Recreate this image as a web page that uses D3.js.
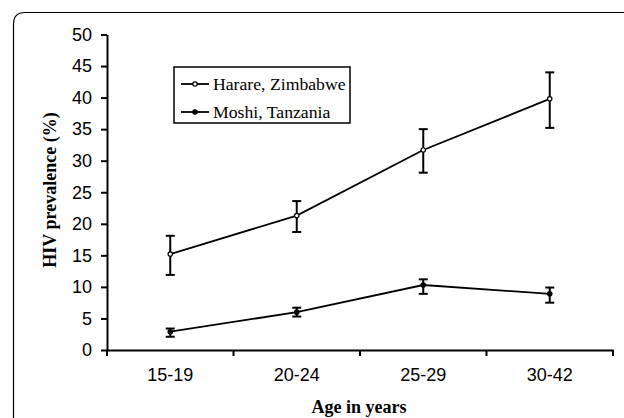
<!DOCTYPE html>
<html>
<head>
    <title>HIV prevalence by age</title>
    <script src="https://d3js.org/d3.v7.min.js"></script>
    <style>
        body { margin: 0; background: #fff; }
        .tick text { font-family: "Liberation Sans", Arial, sans-serif; font-size: 18px; fill: #000; }
        .title { font-family: "Liberation Serif", "Times New Roman", serif; font-weight: bold; font-size: 18px; }
        .legend text { font-family: "Liberation Serif", "Times New Roman", serif; font-size: 17.7px; }
    </style>
</head>
<body>
    <div id="chart"></div>

    <script>
        // Data
        let ageGroups = ["15-19", "20-24", "25-29", "30-42"];
        let harare = [15.2, 21.3, 31.7, 39.8];
        let harareLow = [11.9, 18.7, 28.1, 35.2];
        let harareHigh = [18.1, 23.6, 35.0, 44.0];
        let moshi = [2.9, 6.0, 10.3, 8.9];
        let moshiLow = [2.1, 5.3, 8.9, 7.5];
        let moshiHigh = [3.4, 6.7, 11.2, 9.9];
        let yTicks = [0, 5, 10, 15, 20, 25, 30, 35, 40, 45, 50];

        let series = [
            {name: "Harare, Zimbabwe", values: harare, low: harareLow, high: harareHigh, fill: "#fff"},
            {name: "Moshi, Tanzania", values: moshi, low: moshiLow, high: moshiHigh, fill: "#000"}
        ];

        let svg = d3.select("#chart").append("svg")
            .attr("width", 624)
            .attr("height", 418);

        // outer frame with rounded top-left corner
        svg.append("path")
            .attr("d", "M13.5,640 L13.5,24 Q13.5,12.5 25,12.5 L640,12.5")
            .attr("fill", "none")
            .attr("stroke", "#000")
            .attr("stroke-width", 1.2);

        let x = d3.scaleBand().domain(ageGroups).range([107, 613]);
        let y = d3.scaleLinear().domain([0, 50]).range([350, 34.5]);

        // axes
        let xAxis = svg.append("g")
            .attr("transform", "translate(0,350)")
            .call(d3.axisBottom(x).tickSize(0).tickPadding(18));
        xAxis.select(".domain").attr("stroke-width", 2);

        // band boundary ticks
        svg.selectAll(".xtick")
            .data(d3.range(ageGroups.length + 1))
            .enter().append("line")
            .attr("x1", i => 107 + i * x.bandwidth())
            .attr("x2", i => 107 + i * x.bandwidth())
            .attr("y1", 350)
            .attr("y2", 356)
            .attr("stroke", "#000")
            .attr("stroke-width", 2);

        let yAxis = svg.append("g")
            .attr("transform", "translate(107,0)")
            .call(d3.axisLeft(y).tickValues(yTicks).tickSize(6).tickPadding(9).tickSizeOuter(0));
        yAxis.select(".domain").attr("stroke-width", 2);
        yAxis.selectAll(".tick line").attr("stroke-width", 2);

        // axis titles
        svg.append("text")
            .attr("class", "title")
            .attr("x", 359)
            .attr("y", 413)
            .attr("text-anchor", "middle")
            .text("Age in years");

        svg.append("text")
            .attr("class", "title")
            .attr("transform", "translate(56,190) rotate(-90)")
            .attr("text-anchor", "middle")
            .text("HIV prevalence (%)");

        let cx = (d, i) => x(ageGroups[i]) + x.bandwidth() / 2;
        let line = d3.line().x(cx).y(d => y(d));

        series.forEach(s => {
            let g = svg.append("g");

            g.append("path")
                .attr("d", line(s.values))
                .attr("fill", "none")
                .attr("stroke", "#000")
                .attr("stroke-width", 1.8);

            // error bars
            s.values.forEach((v, i) => {
                let px = cx(v, i);
                g.append("line")
                    .attr("x1", px).attr("x2", px)
                    .attr("y1", y(s.low[i])).attr("y2", y(s.high[i]))
                    .attr("stroke", "#000").attr("stroke-width", 2);
                [s.low[i], s.high[i]].forEach(e => {
                    g.append("line")
                        .attr("x1", px - 4.5).attr("x2", px + 4.5)
                        .attr("y1", y(e)).attr("y2", y(e))
                        .attr("stroke", "#000").attr("stroke-width", 2);
                });
            });

            g.selectAll("circle")
                .data(s.values)
                .enter().append("circle")
                .attr("cx", cx)
                .attr("cy", d => y(d))
                .attr("r", 2.2)
                .attr("fill", s.fill)
                .attr("stroke", "#000")
                .attr("stroke-width", 1.2);
        });

        // legend
        let legend = svg.append("g").attr("class", "legend");
        legend.append("rect")
            .attr("x", 174).attr("y", 67)
            .attr("width", 176).attr("height", 56)
            .attr("fill", "#fff")
            .attr("stroke", "#000")
            .attr("stroke-width", 1.5);

        series.forEach((s, i) => {
            let ly = 84 + i * 28;
            legend.append("line")
                .attr("x1", 181).attr("x2", 209)
                .attr("y1", ly).attr("y2", ly)
                .attr("stroke", "#000").attr("stroke-width", 1.8);
            legend.append("circle")
                .attr("cx", 195).attr("cy", ly).attr("r", 2.2)
                .attr("fill", s.fill).attr("stroke", "#000").attr("stroke-width", 1.2);
            legend.append("text")
                .attr("x", 213).attr("y", ly)
                .attr("dy", "0.35em")
                .text(s.name);
        });
    </script>
</body>
</html>
